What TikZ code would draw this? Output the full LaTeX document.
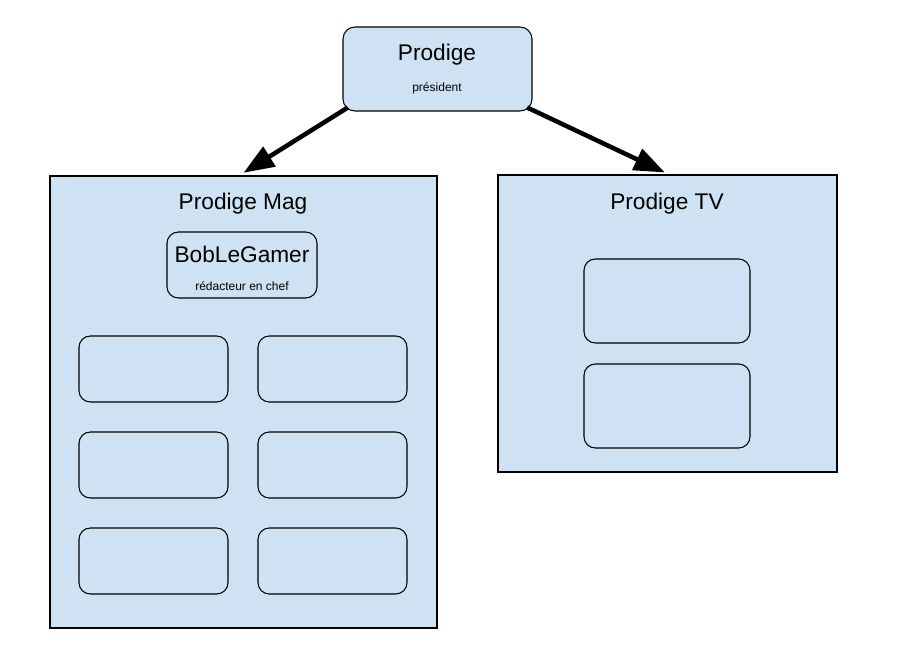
\documentclass[tikz,border=0pt]{standalone}
\usepackage{fontspec}
\setmainfont{Liberation Sans}
\usetikzlibrary{arrows.meta}
\definecolor{boxblue}{HTML}{CFE2F3}
\begin{document}
\begin{tikzpicture}[x=0.75pt, y=-0.75pt,
    team/.style={fill=boxblue, draw=black, line width=0.8pt},
    role/.style={fill=boxblue, draw=black, line width=0.8pt, rounded corners=8.5pt},
    big/.style={font=\fontsize{17}{20}\selectfont},
    small/.style={font=\fontsize{9}{10}\selectfont},
    link/.style={line width=3.4pt, -{Triangle[length=23pt, width=17pt]}}]
  \useasboundingbox (0, 0) rectangle (913, 645);
  % top
  \node[role, rounded corners=9pt, minimum width=141.75pt, minimum height=63pt] (top) at (437.5, 69) {};
  \node[big] (topname) at (437, 55) {Prodige};
  \node[small] (toprole) at (437, 88) {président};
  % groups
  \node[team, minimum width=290.25pt, minimum height=339pt] (mag) at (243.5, 402) {};
  \node[team, minimum width=254.25pt, minimum height=222.75pt] (tv) at (667.5, 323.5) {};
  \node[big] (magname) at (243, 204) {Prodige Mag};
  \node[big] (tvname) at (667, 204) {Prodige TV};
  % mag
  \node[role, minimum width=112.5pt, minimum height=49.5pt] (chief) at (242, 265) {};
  \node[big] (chiefname) at (242, 254) {BobLeGamer};
  \node[small] (chiefrole) at (242, 286) {rédacteur en chef};
  \node[role, minimum width=111.75pt, minimum height=49.5pt] (m1) at (153.5, 369) {};
  \node[role, minimum width=111.75pt, minimum height=49.5pt] (m2) at (332.5, 369) {};
  \node[role, minimum width=111.75pt, minimum height=49.5pt] (m3) at (153.5, 465) {};
  \node[role, minimum width=111.75pt, minimum height=49.5pt] (m4) at (332.5, 465) {};
  \node[role, minimum width=111.75pt, minimum height=49.5pt] (m5) at (153.5, 561) {};
  \node[role, minimum width=111.75pt, minimum height=49.5pt] (m6) at (332.5, 561) {};
  % tv
  \node[role, minimum width=124.5pt, minimum height=63pt] (t1) at (667, 301) {};
  \node[role, minimum width=124.5pt, minimum height=63pt] (t2) at (667, 406) {};
  % arrows
  \draw[link] ([xshift=4pt, yshift=3pt]top.south west) -- ([yshift=2pt]mag.north);
  \draw[link] ([xshift=-4pt, yshift=3pt]top.south east) -- ([xshift=-2pt, yshift=1.5pt]tv.north);
\end{tikzpicture}
\end{document}
